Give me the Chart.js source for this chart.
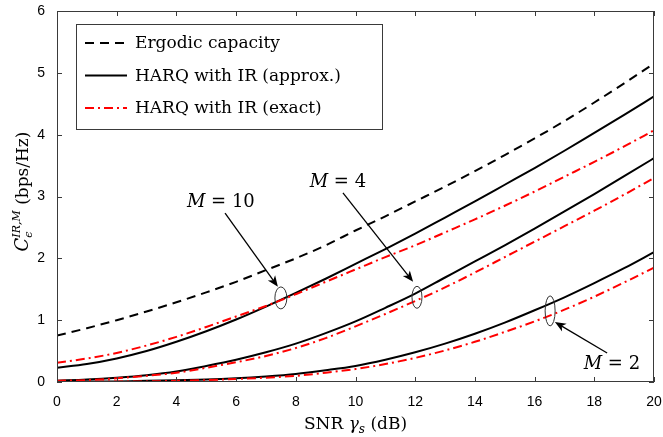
<!DOCTYPE html>
<html>
<head>
<meta charset="utf-8">
<script src="https://cdn.jsdelivr.net/npm/chart.js@4.4.0/dist/chart.umd.min.js"></script>
<style>
  html, body { margin: 0; padding: 0; background: #fff; }
  #wrap { width: 663px; height: 437px; }
</style>
</head>
<body>
<div id="wrap"><canvas id="chart" width="663" height="437"></canvas></div>
<script>
// SNR (dB)
const snrDb = [0, 1, 2, 3, 4, 5, 6, 7, 8, 9, 10, 11, 12, 13, 14, 15, 16, 17, 18, 19, 20];

// capacité ergodique
const ergodic = [0.75, 0.87, 1.00, 1.14, 1.29, 1.45, 1.62, 1.81, 2.00, 2.21, 2.45, 2.68, 2.92, 3.16, 3.41, 3.67, 3.94, 4.22, 4.52, 4.83, 5.15];

// HARQ IR approx. / exact, M = 10, 4, 2
const approxM10 = [0.23, 0.29, 0.38, 0.50, 0.65, 0.82, 1.01, 1.22, 1.44, 1.67, 1.91, 2.15, 2.40, 2.66, 2.92, 3.19, 3.46, 3.74, 4.03, 4.32, 4.62];
const exactM10 = [0.31, 0.38, 0.47, 0.59, 0.73, 0.89, 1.06, 1.23, 1.42, 1.62, 1.82, 2.02, 2.21, 2.42, 2.63, 2.85, 3.08, 3.32, 3.56, 3.81, 4.07];
const approxM4 = [0.02, 0.04, 0.07, 0.11, 0.17, 0.26, 0.36, 0.48, 0.62, 0.79, 0.98, 1.20, 1.43, 1.69, 1.95, 2.21, 2.48, 2.76, 3.04, 3.33, 3.62];
const exactM4 = [0.02, 0.03, 0.06, 0.10, 0.15, 0.23, 0.32, 0.42, 0.55, 0.71, 0.90, 1.10, 1.31, 1.53, 1.77, 2.02, 2.27, 2.52, 2.77, 3.03, 3.30];
const approxM2 = [0.00, 0.01, 0.01, 0.02, 0.03, 0.04, 0.06, 0.09, 0.13, 0.19, 0.26, 0.36, 0.48, 0.62, 0.78, 0.96, 1.16, 1.37, 1.60, 1.84, 2.10];
const exactM2 = [0.00, 0.00, 0.01, 0.01, 0.02, 0.03, 0.05, 0.07, 0.10, 0.15, 0.21, 0.29, 0.39, 0.51, 0.65, 0.81, 0.98, 1.17, 1.38, 1.61, 1.85];

const xTicks = [0, 2, 4, 6, 8, 10, 12, 14, 16, 18, 20];
const yTicks = [0, 1, 2, 3, 4, 5, 6];

const legendLabels = ['Ergodic capacity', 'HARQ with IR (approx.)', 'HARQ with IR (exact)'];

// annotations (en coordonnées des données)
const notes = [
  { label: '10', text: [5.49, 2.94], from: [5.63, 2.73], to: [7.40, 1.54], ell: [7.50, 1.36], rx: 6, ry: 11 },
  { label: '4', text: [9.41, 3.27], from: [9.58, 3.06], to: [11.93, 1.62], ell: [12.06, 1.37], rx: 5, ry: 11 },
  { label: '2', text: [18.59, 0.32], from: [18.43, 0.47], to: [16.68, 0.97], ell: [16.52, 1.15], rx: 5, ry: 15 }
];

const RED = '#ff0000';
const DASH = [9, 6];
const DASHDOT = [9, 4, 2, 4];

function pts(ys) {
  return snrDb.map((x, i) => ({ x, y: ys[i] }));
}

function line(data, color, dash) {
  return {
    data: pts(data),
    borderColor: color,
    borderWidth: 2,
    borderDash: dash,
    segment: { borderDash: () => dash },
    pointRadius: 0,
    cubicInterpolationMode: 'monotone',
    fill: false
  };
}

const SERIF = '"DejaVu Serif", serif';

// texte composé (indices, exposants)
function drawParts(ctx, parts, x, y, align) {
  let w = 0;
  parts.forEach(p => { ctx.font = p.font; p.w = p.skip ? 0 : ctx.measureText(p.t).width; w += p.w; });
  let cx = align === 'center' ? x - w / 2 : x;
  ctx.textBaseline = 'alphabetic';
  ctx.textAlign = 'left';
  parts.forEach(p => {
    ctx.font = p.font;
    ctx.fillText(p.t, cx, y + (p.dy || 0));
    cx += p.w;
  });
}

function arrow(ctx, x1, y1, x2, y2) {
  const a = Math.atan2(y2 - y1, x2 - x1);
  const L = 11, H = 4.5;
  ctx.beginPath();
  ctx.moveTo(x1, y1);
  ctx.lineTo(x2 - Math.cos(a) * 6, y2 - Math.sin(a) * 6);
  ctx.stroke();
  ctx.save();
  ctx.translate(x2, y2);
  ctx.rotate(a);
  ctx.beginPath();
  ctx.moveTo(0, 0);
  ctx.lineTo(-L, -H);
  ctx.lineTo(-L + 3, 0);
  ctx.lineTo(-L, H);
  ctx.closePath();
  ctx.fill();
  ctx.restore();
}

const decor = {
  id: 'decor',
  afterDatasetsDraw(chart) {
    const { ctx, chartArea: a, scales: { x, y } } = chart;
    ctx.save();

    // cadre + graduations intérieures
    ctx.strokeStyle = '#3a3a3a';
    ctx.lineWidth = 1;
    ctx.setLineDash([]);
    ctx.strokeRect(a.left + 0.5, a.top + 0.5, a.right - a.left - 1, a.bottom - a.top - 1);
    ctx.beginPath();
    xTicks.forEach(v => {
      const px = Math.round(x.getPixelForValue(v)) + 0.5;
      ctx.moveTo(px, a.bottom); ctx.lineTo(px, a.bottom - 5);
      ctx.moveTo(px, a.top); ctx.lineTo(px, a.top + 5);
    });
    yTicks.forEach(v => {
      const py = Math.round(y.getPixelForValue(v)) + 0.5;
      ctx.moveTo(a.left, py); ctx.lineTo(a.left + 5, py);
      ctx.moveTo(a.right, py); ctx.lineTo(a.right - 5, py);
    });
    ctx.stroke();

    // légende
    const lx = a.left + 19, ly = a.top + 13, lw = 306, lh = 105;
    ctx.fillStyle = '#fff';
    ctx.fillRect(lx, ly, lw, lh);
    ctx.strokeStyle = '#3a3a3a';
    ctx.strokeRect(lx + 0.5, ly + 0.5, lw, lh);
    const styles = [['#000', DASH], ['#000', []], [RED, DASHDOT]];
    legendLabels.forEach((t, i) => {
      const ry = ly + 19 + i * 32.5;
      ctx.strokeStyle = styles[i][0];
      ctx.lineWidth = 2;
      ctx.setLineDash(styles[i][1]);
      ctx.beginPath();
      ctx.moveTo(lx + 9, ry); ctx.lineTo(lx + 51, ry);
      ctx.stroke();
      ctx.setLineDash([]);
      ctx.fillStyle = '#000';
      ctx.font = '17px ' + SERIF;
      ctx.textAlign = 'left';
      ctx.textBaseline = 'middle';
      ctx.fillText(t, lx + 59, ry + 1);
    });

    // annotations M = ...
    ctx.strokeStyle = '#000';
    ctx.fillStyle = '#000';
    ctx.lineWidth = 1.3;
    notes.forEach(n => {
      const px = v => x.getPixelForValue(v[0]);
      const py = v => y.getPixelForValue(v[1]);
      drawParts(ctx, [
        { t: 'M', font: 'italic 18px ' + SERIF },
        { t: ' = ' + n.label, font: '18px ' + SERIF }
      ], px(n.text), py(n.text) + 7, 'center');
      arrow(ctx, px(n.from), py(n.from), px(n.to), py(n.to));
      ctx.lineWidth = 1;
      ctx.strokeStyle = '#333';
      ctx.beginPath();
      ctx.ellipse(px(n.ell), py(n.ell), n.rx, n.ry, 0, 0, Math.PI * 2);
      ctx.stroke();
      ctx.strokeStyle = '#000';
      ctx.lineWidth = 1.3;
    });

    // titres des axes
    ctx.fillStyle = '#000';
    drawParts(ctx, [
      { t: 'SNR ', font: '17px ' + SERIF },
      { t: 'γ', font: 'italic 17px ' + SERIF },
      { t: 's', font: 'italic 12px ' + SERIF, dy: 4 },
      { t: ' (dB)', font: '17px ' + SERIF }
    ], (a.left + a.right) / 2, 429, 'center');

    ctx.save();
    ctx.translate(28, (a.top + a.bottom) / 2 - 5);
    ctx.rotate(-Math.PI / 2);
    drawParts(ctx, [
      { t: 'C', font: 'italic 18px ' + SERIF },
      { t: 'ϵ', font: 'italic 11px ' + SERIF, dy: 4, skip: true },
      { t: 'IR,M', font: 'italic 11px ' + SERIF, dy: -8 },
      { t: ' (bps/Hz)', font: '17px ' + SERIF }
    ], 0, 0, 'center');
    ctx.restore();

    ctx.restore();
  }
};

new Chart(document.getElementById('chart'), {
  type: 'line',
  data: {
    datasets: [
      line(exactM10, RED, DASHDOT),
      line(exactM4, RED, DASHDOT),
      line(exactM2, RED, DASHDOT),
      line(approxM10, '#000', []),
      line(approxM4, '#000', []),
      line(approxM2, '#000', []),
      line(ergodic, '#000', DASH)
    ]
  },
  options: {
    responsive: false,
    animation: false,
    devicePixelRatio: 1,
    layout: { padding: { left: 0, right: 9, top: 11, bottom: 0 } },
    plugins: { legend: { display: false }, tooltip: { enabled: false } },
    scales: {
      x: {
        type: 'linear',
        min: 0, max: 20,
        grid: { display: false },
        border: { display: false },
        afterFit: s => { s.height = 55; s.paddingLeft = 0; s.paddingRight = 0; },
        afterBuildTicks: s => { s.ticks = xTicks.map(v => ({ value: v })); },
        ticks: { padding: 4, maxRotation: 0, color: '#000', font: { family: '"Liberation Sans", Arial, sans-serif', size: 14 } }
      },
      y: {
        min: 0, max: 6,
        grid: { display: false },
        border: { display: false },
        afterFit: s => { s.width = 57; s.paddingTop = 0; s.paddingBottom = 0; },
        afterBuildTicks: s => { s.ticks = yTicks.map(v => ({ value: v })); },
        ticks: { padding: 4, color: '#000', font: { family: '"Liberation Sans", Arial, sans-serif', size: 14 } }
      }
    }
  },
  plugins: [decor]
});
</script>
</body>
</html>
